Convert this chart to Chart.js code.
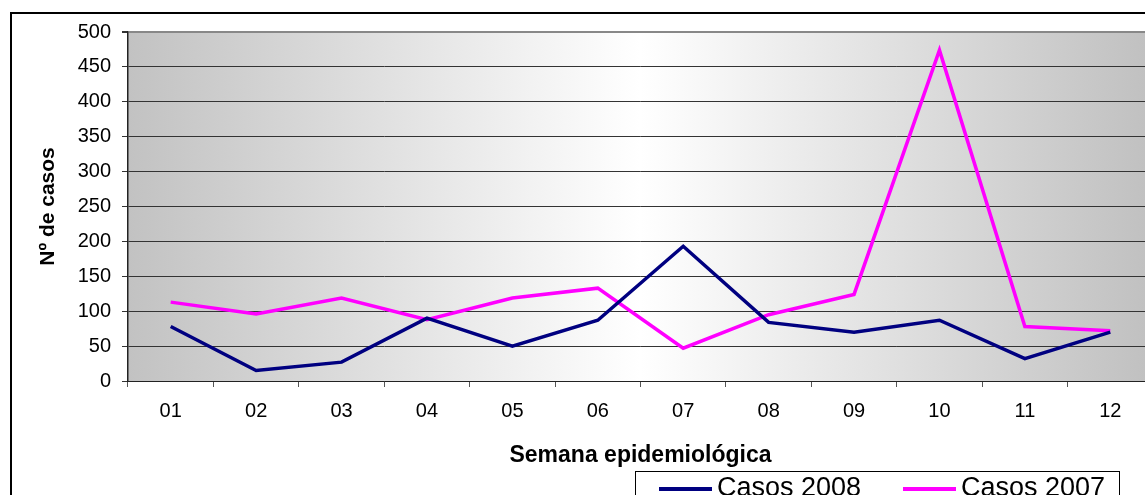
<!DOCTYPE html>
<html>
<head>
<meta charset="utf-8">
<script src="https://cdn.jsdelivr.net/npm/chart.js@4"></script>
<style>
  body { margin: 0; overflow: hidden; background: #fff; }
  #wrap { position: absolute; left: 0; top: 0; width: 1153px; height: 495px; }
</style>
</head>
<body>
<div id="wrap"><canvas id="casesChart" width="1153" height="495"></canvas></div>
<script>
// Weeks and cases per week
const semanas = ["01", "02", "03", "04", "05", "06", "07", "08", "09", "10", "11", "12"];
const casos2008 = [78, 15, 27, 90, 50, 87, 193, 84, 70, 87, 32, 70];
const casos2007 = [113, 96, 119, 88, 119, 133, 47, 95, 124, 474, 78, 72];
const yTicks = [0, 50, 100, 150, 200, 250, 300, 350, 400, 450, 500];

const fontFamily = "'Liberation Sans', Arial, sans-serif";

// Gray-white-gray background behind the plot
const plotBackground = {
  id: "plotBackground",
  beforeDraw(chart) {
    const { ctx, chartArea: a } = chart;
    const g = ctx.createLinearGradient(a.left, 0, a.right, 0);
    g.addColorStop(0, "#c2c2c2");
    g.addColorStop(0.5, "#ffffff");
    g.addColorStop(1, "#c0c0c0");
    ctx.save();
    ctx.fillStyle = g;
    ctx.fillRect(a.left, a.top, a.right - a.left, a.bottom - a.top);
    ctx.restore();
  }
};

// Outer frame + boxed legend at the bottom
const frameAndLegend = {
  id: "frameAndLegend",
  afterDraw(chart) {
    const ctx = chart.ctx;
    ctx.save();
    ctx.fillStyle = "#000";
    ctx.fillRect(10, 12, 2, 490);
    ctx.fillRect(10, 12, 1150, 2);

    ctx.strokeStyle = "#000";
    ctx.lineWidth = 1;
    ctx.strokeRect(635.5, 471.5, 484, 40);

    const items = [
      { x: 659, tx: 717 },
      { x: 903, tx: 961 }
    ];
    ctx.font = "27px " + fontFamily;
    ctx.textBaseline = "alphabetic";
    chart.data.datasets.forEach((ds, i) => {
      const it = items[i];
      ctx.strokeStyle = ds.borderColor;
      ctx.lineWidth = 4;
      ctx.beginPath();
      ctx.moveTo(it.x, 489);
      ctx.lineTo(it.x + 53, 489);
      ctx.stroke();
      ctx.fillStyle = "#000";
      ctx.fillText(ds.label, it.tx, 496);
    });
    ctx.restore();
  }
};

new Chart(document.getElementById("casesChart"), {
  type: "line",
  data: {
    labels: semanas,
    datasets: [
      {
        label: "Casos 2008",
        data: casos2008,
        borderColor: "#000080",
        borderWidth: 3.5,
        pointRadius: 0,
        tension: 0
      },
      {
        label: "Casos 2007",
        data: casos2007,
        borderColor: "#ff00ff",
        borderWidth: 3.5,
        pointRadius: 0,
        tension: 0
      }
    ]
  },
  options: {
    responsive: false,
    animation: false,
    layout: { padding: { top: 32, left: 0, right: 0, bottom: 0 } },
    plugins: {
      legend: { display: false },
      tooltip: { enabled: false }
    },
    scales: {
      x: {
        offset: true,
        afterFit(scale) { scale.height = 114; },
        grid: {
          offset: true,
          drawOnChartArea: false,
          drawTicks: true,
          tickLength: 6,
          color: "#555"
        },
        border: { display: true, color: "#222", width: 1 },
        ticks: {
          color: "#000",
          padding: 12,
          maxRotation: 0,
          font: { family: fontFamily, size: 20 }
        },
        title: {
          display: true,
          text: "Semana epidemiológica",
          color: "#000",
          font: { family: fontFamily, size: 23, weight: "bold" },
          padding: { top: 0, bottom: 26 }
        }
      },
      y: {
        min: 0,
        max: 500,
        afterFit(scale) { scale.width = 128; },
        afterBuildTicks(scale) { scale.ticks = yTicks.map(v => ({ value: v })); },
        grid: {
          color: ctx => (ctx.tick && ctx.tick.value === 500 ? "#888" : "#333"),
          lineWidth: ctx => (ctx.tick && ctx.tick.value === 500 ? 2 : 1),
          tickColor: "#333",
          tickLength: 6
        },
        border: { display: true, color: "#222", width: 1.5 },
        ticks: {
          color: "#000",
          padding: 11,
          font: { family: fontFamily, size: 20 }
        },
        title: {
          display: true,
          text: "Nº de casos",
          color: "#000",
          font: { family: fontFamily, size: 21, weight: "bold" },
          padding: { top: 36, bottom: 0 }
        }
      }
    }
  },
  plugins: [plotBackground, frameAndLegend]
});
</script>
</body>
</html>
